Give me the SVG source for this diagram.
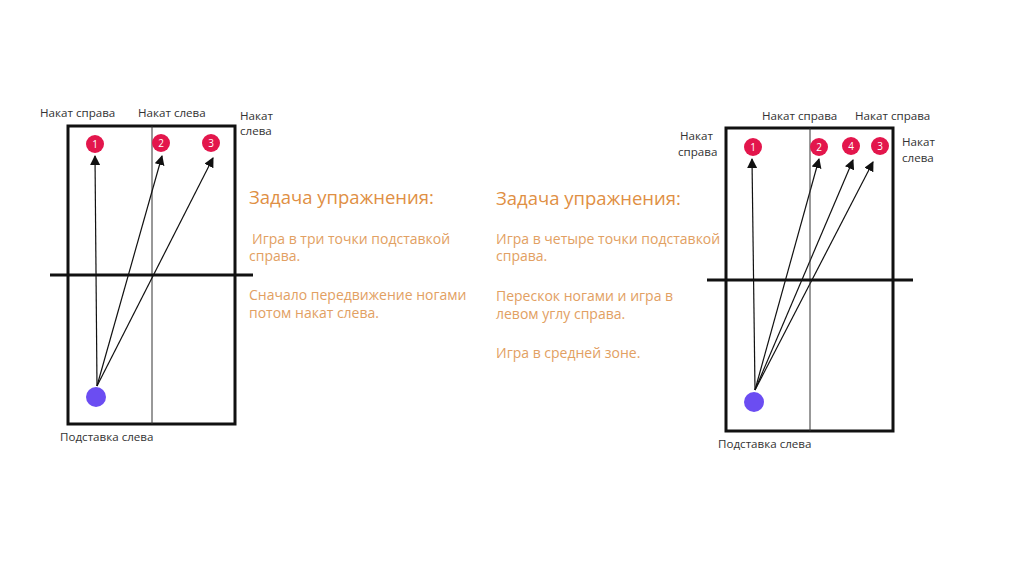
<svg xmlns="http://www.w3.org/2000/svg" width="1024" height="574" viewBox="0 0 1024 574">
<defs>
<marker id="ah" viewBox="0 0 10 10" refX="9" refY="5" markerWidth="10" markerHeight="10" markerUnits="userSpaceOnUse" orient="auto">
<path d="M0,0 L10,5 L0,10 z" fill="#111"/>
</marker>
</defs>
<style>
.frame{fill:none;stroke:#111;stroke-width:3}
.net{stroke:#111;stroke-width:3}
.mid{stroke:#333;stroke-width:1}
.arr{stroke:#111;stroke-width:1.2;fill:none;marker-end:url(#ah)}
.pt{fill:#E3164C}
.pn{fill:#fff;font-family:"Open Sans",sans-serif;font-size:10px;text-anchor:middle}
.pl{fill:#6B4DF2}
.lbl{fill:#333;font-family:"Open Sans",sans-serif;font-size:11.6px}
.h{fill:#DF8F44;font-family:"Open Sans",sans-serif;font-size:18.5px}
.t{fill:#E2A062;font-family:"Open Sans",sans-serif;font-size:14px}
</style>
<rect width="1024" height="574" fill="#fff"/>

<g id="court-left">
<rect class="frame" x="68" y="126" width="167" height="298"/>
<line class="mid" x1="152" y1="126" x2="152" y2="424"/>
<line class="net" x1="50" y1="275" x2="253" y2="275"/>
</g>
<g id="left-p1"><circle class="pt" cx="95" cy="144" r="9"/><text class="pn" x="95" y="147.5">1</text></g>
<g id="left-p2"><circle class="pt" cx="161" cy="143" r="9"/><text class="pn" x="161" y="146.5">2</text></g>
<g id="left-p3"><circle class="pt" cx="211" cy="143" r="9"/><text class="pn" x="211" y="146.5">3</text></g>
<g id="left-player"><circle class="pl" cx="96" cy="397" r="10"/></g>
<g id="left-labels">
<text class="lbl" x="40" y="117">Накат справа</text>
<text class="lbl" x="138" y="117">Накат слева</text>
<text class="lbl" x="240" y="120">Накат</text>
<text class="lbl" x="240" y="135">слева</text>
<text class="lbl" x="60" y="441">Подставка слева</text>
</g>

<g id="connectors">
<line class="arr" x1="97" y1="386" x2="95" y2="156"/>
<line class="arr" x1="97" y1="386" x2="162" y2="156"/>
<line class="arr" x1="97" y1="386" x2="213" y2="158"/>
<line class="arr" x1="755" y1="390" x2="752" y2="159"/>
<line class="arr" x1="755" y1="390" x2="819" y2="159"/>
<line class="arr" x1="755" y1="390" x2="853" y2="160"/>
<line class="arr" x1="755" y1="390" x2="873" y2="162"/>
</g>

<g id="text-left">
<text class="h" x="249" y="204">Задача упражнения:</text>
<text class="t" x="252" y="244">Игра в три точки подставкой</text>
<text class="t" x="249" y="261">справа.</text>
<text class="t" x="249" y="300">Сначало передвижение ногами</text>
<text class="t" x="249" y="318">потом накат слева.</text>
</g>

<g id="text-right">
<text class="h" x="496" y="205">Задача упражнения:</text>
<text class="t" x="496" y="244">Игра в четыре точки подставкой</text>
<text class="t" x="496" y="261">справа.</text>
<text class="t" x="496" y="301">Перескок ногами и игра в</text>
<text class="t" x="496" y="319">левом углу справа.</text>
<text class="t" x="496" y="358">Игра в средней зоне.</text>
</g>

<g id="court-right">
<rect class="frame" x="726" y="128" width="167" height="303"/>
<line class="mid" x1="810" y1="128" x2="810" y2="431"/>
<line class="net" x1="707" y1="280" x2="913" y2="280"/>
</g>
<g id="right-p1"><circle class="pt" cx="753" cy="147" r="9"/><text class="pn" x="753" y="150.5">1</text></g>
<g id="right-p2"><circle class="pt" cx="819" cy="147" r="9"/><text class="pn" x="819" y="150.5">2</text></g>
<g id="right-p4"><circle class="pt" cx="851" cy="146" r="9"/><text class="pn" x="851" y="149.5">4</text></g>
<g id="right-p3"><circle class="pt" cx="880" cy="146" r="9"/><text class="pn" x="880" y="149.5">3</text></g>
<g id="right-player"><circle class="pl" cx="754" cy="402" r="10"/></g>
<g id="right-labels">
<text class="lbl" x="762" y="120">Накат справа</text>
<text class="lbl" x="855" y="120">Накат справа</text>
<text class="lbl" x="680" y="140">Накат</text>
<text class="lbl" x="678" y="156">справа</text>
<text class="lbl" x="902" y="146">Накат</text>
<text class="lbl" x="902" y="162">слева</text>
<text class="lbl" x="718" y="448">Подставка слева</text>
</g>
</svg>
